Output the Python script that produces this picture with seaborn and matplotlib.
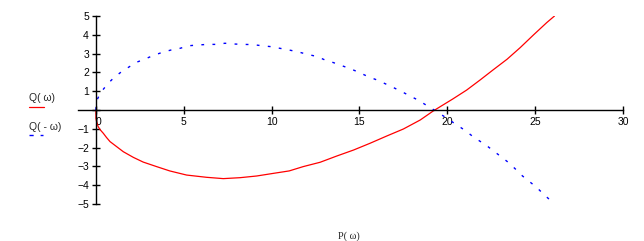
import matplotlib
matplotlib.use("Agg")
import matplotlib.pyplot as plt
import seaborn as sns
import pandas as pd

# P(w) / Q(w)
p_pos = [0, 0, 0.05, 0.13, 0.25, 0.42, 0.60, 0.80, 1.18, 1.56, 2.13, 2.69, 3.45,
         4.2, 5.16, 6.3, 7.25, 8.2, 9.15, 10.1, 11.0, 11.8, 12.76,
         13.7, 14.66, 15.6, 16.56, 17.5, 18.46, 19.2, 19.6, 20.3, 21.1,
         21.87, 22.6, 23.4, 24.15, 24.9, 25.66, 26.1]
q_pos = [0, -0.44, -0.68, -0.89, -1.06, -1.24, -1.46, -1.68, -1.95, -2.22, -2.52, -2.77, -3.01,
         -3.24, -3.46, -3.58, -3.65, -3.6, -3.51, -3.37, -3.24, -3.01, -2.78,
         -2.45, -2.13, -1.77, -1.38, -1.01, -0.53, -0.05, 0.18, 0.58, 1.06,
         1.6, 2.13, 2.7, 3.32, 3.99, 4.65, 5.0]

p_neg = [0, 0.02, 0.17, 0.38, 0.7, 1.02, 1.46, 1.9, 2.31, 2.79,
         3.26, 3.79, 4.27, 4.78, 5.31, 5.83, 6.36, 6.87, 7.34, 7.87,
         8.39, 8.92, 9.43, 9.96, 10.48, 11.0, 11.52, 12.03, 12.57, 13.04,
         13.52, 14.05, 14.52, 15.0, 15.5, 15.99, 16.46, 16.94, 17.4, 17.89,
         18.33, 18.78, 19.18, 19.7, 20.55, 20.97, 21.4, 21.84, 22.26, 22.69,
         23.11, 23.49, 23.9, 24.28, 24.68, 25.1, 25.47, 25.85, 26.05]
q_neg = [0, 0.45, 0.74, 1.06, 1.42, 1.72, 2.04, 2.3, 2.54, 2.71,
         2.9, 3.07, 3.19, 3.28, 3.42, 3.46, 3.49, 3.49, 3.55, 3.51,
         3.49, 3.48, 3.42, 3.37, 3.28, 3.19, 3.09, 2.96, 2.85, 2.66,
         2.52, 2.34, 2.18, 1.99, 1.77, 1.6, 1.4, 1.19, 0.98, 0.74,
         0.53, 0.27, 0.04, -0.27, -0.8, -1.06, -1.37, -1.65, -1.91, -2.22,
         -2.52, -2.8, -3.16, -3.51, -3.81, -4.13, -4.47, -4.79, -4.95]

x_ticks = [0, 5, 10, 15, 20, 25, 30]
y_ticks = [-5, -4, -3, -2, -1, 0, 1, 2, 3, 4, 5]
y_tick_labels = ["−5", "−4", "−3", "−2", "−1", "", "1", "2", "3", "4", "5"]

sns.set_style("white")
plt.rcParams["font.family"] = ["Liberation Sans", "DejaVu Sans"]

fig = plt.figure(figsize=(6.44, 2.41), dpi=100)
ax = fig.add_axes([0.1217, 0.1535, 0.8457, 0.7801])

df_pos = pd.DataFrame({"P": p_pos, "Q": q_pos})
df_neg = pd.DataFrame({"P": p_neg, "Q": q_neg})
sns.lineplot(data=df_pos, x="P", y="Q", sort=False, estimator=None,
             color="#ff0000", linewidth=0.9, ax=ax)
sns.lineplot(data=df_neg, x="P", y="Q", sort=False, estimator=None,
             color="#0000ff", linewidth=1.0, linestyle=(0, (2, 6)), ax=ax)

ax.set_xlim(-1, 30)
ax.set_ylim(-5, 5)
ax.spines["left"].set_position(("data", 0))
ax.spines["bottom"].set_position(("data", 0))
ax.spines["right"].set_visible(False)
ax.spines["top"].set_visible(False)
for s in ("left", "bottom"):
    ax.spines[s].set_color("black")
    ax.spines[s].set_linewidth(1.0)

ax.set_xticks(x_ticks)
ax.set_yticks(y_ticks)
ax.set_yticklabels(y_tick_labels)
ax.tick_params(axis="both", direction="inout", length=6, width=1.0,
               color="black", labelsize=7.5, labelcolor="black", pad=2,
               bottom=True, left=True)
ax.set_xlabel("")
ax.set_ylabel("")
for lbl in ax.get_xticklabels():
    if lbl.get_text() == "0":
        lbl.set_horizontalalignment("left")

# x label and legend-like labels on the left
fig.text(349 / 644, 1 - 236 / 241, "P( ω)", ha="center", va="center",
         fontsize=7.5, family=["Liberation Serif", "DejaVu Serif"])
fig.text(29 / 644, 1 - 98 / 241, "Q( ω)", ha="left", va="center", fontsize=7.5)
fig.lines.append(plt.Line2D([29 / 644, 44 / 644], [1 - 107 / 241] * 2,
                            transform=fig.transFigure, color="#ff0000", linewidth=0.9))
fig.text(29 / 644, 1 - 127 / 241, "Q( - ω)", ha="left", va="center", fontsize=7.5)
fig.lines.append(plt.Line2D([29 / 644, 43 / 644], [1 - 135 / 241] * 2,
                            transform=fig.transFigure, color="#0000ff", linewidth=1.0,
                            linestyle=(0, (3, 5))))

fig.savefig("out.png", dpi=100)
